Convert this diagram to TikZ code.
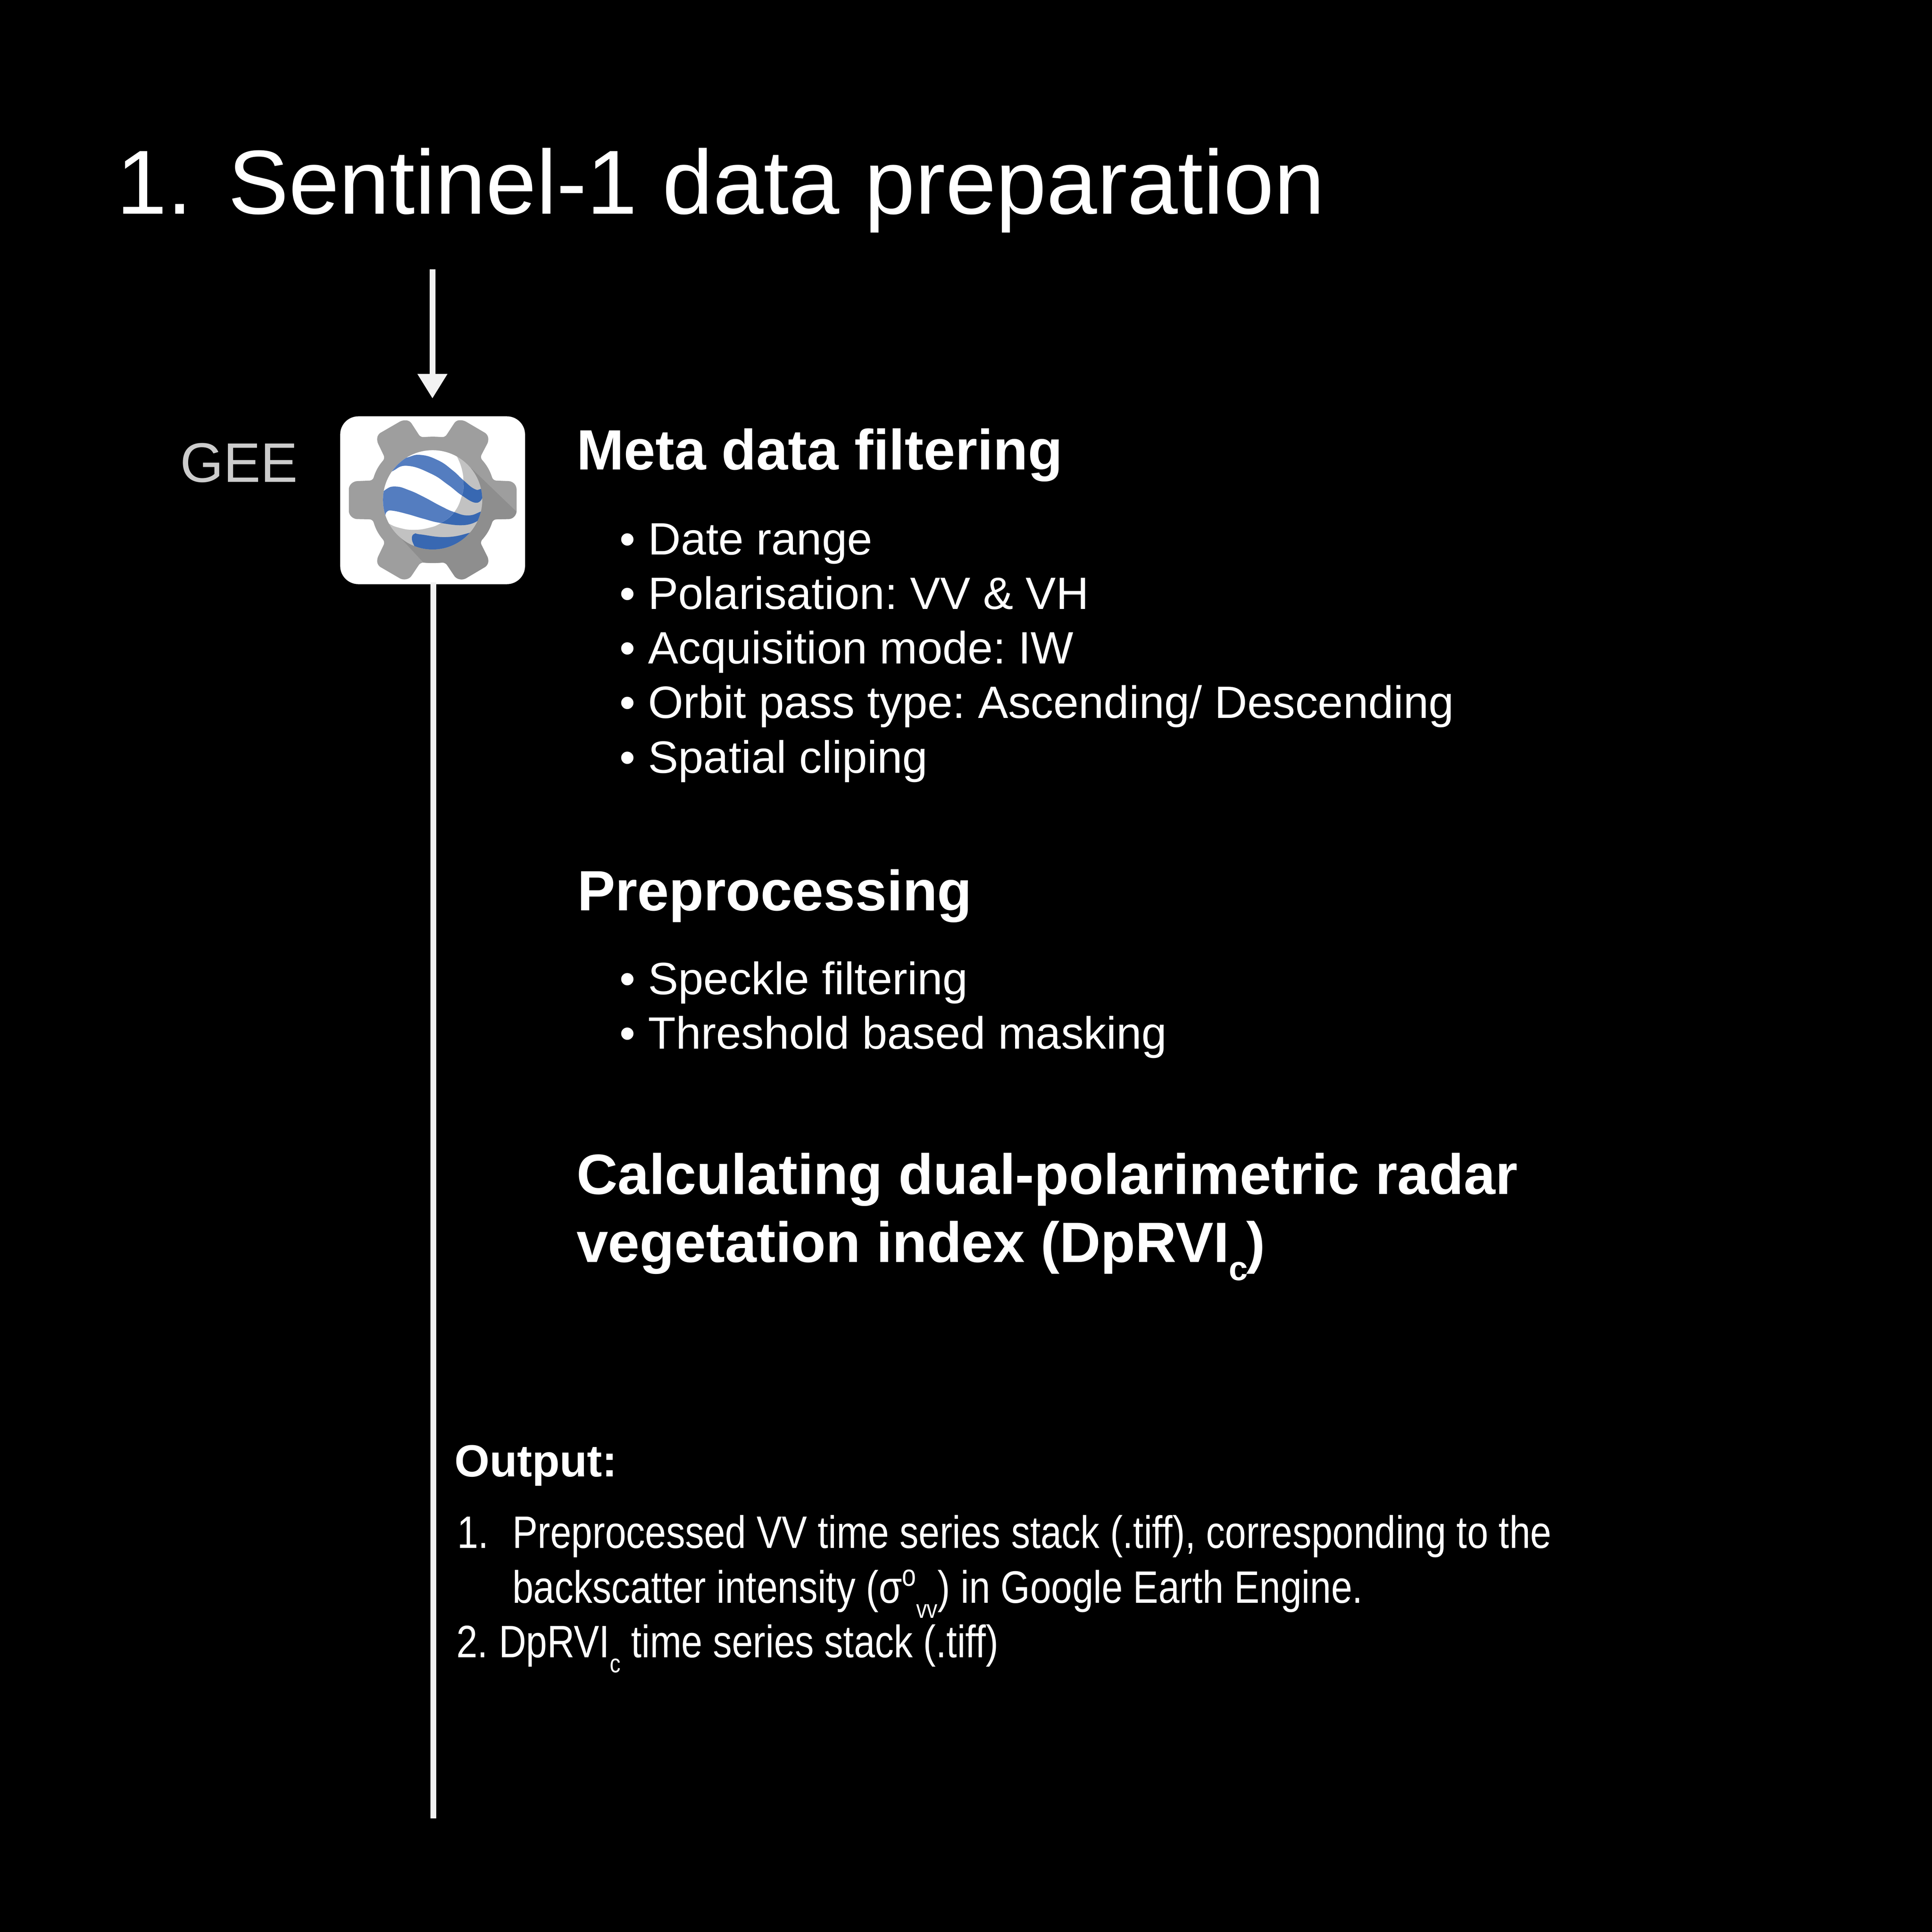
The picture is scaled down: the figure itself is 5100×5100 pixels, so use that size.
\documentclass[tikz,border=0pt]{standalone}
\usepackage{fontspec}
\setmainfont{Liberation Sans}
\newfontfamily\condfont[FakeStretch=0.833]{Liberation Sans}
\usetikzlibrary{arrows.meta}
\newcommand{\fsz}[1]{\fontsize{#1}{#1}\selectfont}
\tikzset{
  txt/.style={anchor=base west,inner sep=0pt,outer sep=0pt,text=white,execute at begin node=\frenchspacing},
  titletxt/.style={txt,font=\fsz{240}},
  headtxt/.style={txt,font=\fsz{150}\bfseries},
  bodytxt/.style={txt,font=\fsz{119.6}},
  outtxt/.style={txt,font=\fsz{120}\condfont},
  outhead/.style={txt,font=\fsz{119}\bfseries},
  conn/.style={draw=linegray,line width=15.5pt},
}
\definecolor{linegray}{HTML}{F2F2F2}
\definecolor{geargray}{HTML}{9E9E9E}
\definecolor{gearshade}{HTML}{8E8E8E}
\definecolor{globegray}{HTML}{C2C2C2}
\definecolor{bluelight}{HTML}{547DC0}
\definecolor{bluedark}{HTML}{3868B2}
\newcommand{\gearfull}{[rounded corners=8pt] (680,298) to[bend left=5] (848,298) -- (925,170) -- (975,168) -- (1142,275) -- (1150,325) -- (1090,450) to[bend left=12] (1180,622) -- (1310,628) -- (1342,665) -- (1342,875) -- (1310,912) -- (1180,915) to[bend left=12] (1090,1085) -- (1150,1215) -- (1142,1262) -- (975,1370) -- (925,1360) -- (850,1238) to[bend left=5] (680,1238) -- (605,1360) -- (555,1370) -- (385,1262) -- (378,1215) -- (435,1085) to[bend left=12] (350,915) -- (220,912) -- (185,875) -- (185,665) -- (220,628) -- (350,622) to[bend left=12] (435,455) -- (378,325) -- (385,275) -- (555,168) -- (605,172) -- cycle}
\newcommand{\bands}{%
 \fill plot[smooth,tension=.8] coordinates {(470,490)(585,450)(680,430)(800,470)(900,545)(975,620)(1050,685)(1098,685)(1170,650)} -- (1170,780) -- plot[smooth,tension=.8] coordinates {(1105,755)(1060,790)(965,735)(870,655)(750,570)(590,512)(490,550)(430,600)} -- cycle;
 \fill plot[smooth,tension=.8] coordinates {(380,760)(440,690)(510,668)(600,695)(700,745)(820,815)(912,860)(1010,885)(1098,855)(1170,820)} -- (1170,900) -- plot[smooth,tension=.8] coordinates {(1075,925)(980,958)(820,942)(700,910)(590,875)(490,850)(450,855)(437,885)} -- (380,900) -- cycle;
 \fill plot[smooth,tension=.8] coordinates {(1070,990)(1020,1015)(860,1048)(680,1028)(640,1022)(620,1055)(637,1115)(680,1200)} -- (1100,1200) -- cycle;
}
\begin{document}
\begin{tikzpicture}[x=1pt,y=-1pt]
\useasboundingbox (0,0) rectangle (5100,5100);
\fill[black] (0,0) rectangle (5100,5100);
% icon tile
\node[fill=white,rounded corners=48pt,minimum width=488pt,minimum height=443pt,inner sep=0pt,outer sep=0pt,anchor=north west] (icon) at (898,1099) {};
% connectors
\coordinate (arrowtop) at (1141.5,711);
\coordinate (arrowtip) at (1141.5,1052);
\coordinate (lineend) at (1144,4800);
\coordinate (linestart) at (1144,1537);
\draw[conn,-{Triangle[length=65pt,width=75pt]}] (arrowtop) -- (arrowtip);
\draw[conn] (linestart) -- (lineend);
% gear logo
\begin{scope}[shift={(850,1050)},x=0.3827pt,y=-0.3509pt]
  \fill[geargray] \gearfull;
  \begin{scope}
    \clip \gearfull;
    \fill[gearshade] (1030,530) -- (1400,918) -- (1400,1400) -- (836,1400) -- (530,1040) -- cycle;
  \end{scope}
  \begin{scope}
    \clip (763,768) circle [radius=131pt];
    \fill[globegray] (300,300) rectangle (1200,1200);
    \begin{scope}[bluedark]
      \bands
    \end{scope}
    \begin{scope}
      \clip plot[smooth,tension=.8] coordinates {(900,380)(930,440)(965,540)(975,640)(965,735)(912,860)(820,942)(730,980)(630,993)(540,980)(460,945)(380,880)} -- (300,300) -- cycle;
      \fill[white] (300,300) rectangle (1200,1200);
      \begin{scope}[bluelight]
        \bands
      \end{scope}
    \end{scope}
  \end{scope}
\end{scope}
% title
\node[titletxt] (num) at (308,565) {1.};
\node[titletxt] (title) at (602,565) {Sentinel-1 data preparation};
\node[txt,font=\fsz{147},text=white!80!black] (gee) at (476,1272) {GEE};
% metadata
\node[headtxt] (meta) at (1522,1240) {Meta data filtering};
\foreach \yy/\tt/\nn in {1464/{Date range}/a,1608/{Polarisation: VV \& VH}/b,1752/{Acquisition mode: IW}/c,1896/{Orbit pass type: Ascending{/} Descending}/d,2040/{Spatial cliping}/e}{
  \node[bodytxt] (bul\nn) at (1636,\yy) {•};
  \node[bodytxt] (item\nn) at (1711,\yy) {\tt};
}
\node[headtxt] (prep) at (1524,2404) {Preprocessing};
\foreach \yy/\tt/\nn in {2625/{Speckle filtering}/f,2769/{Threshold based masking}/g}{
  \node[bodytxt] (bul\nn) at (1636,\yy) {•};
  \node[bodytxt] (item\nn) at (1711,\yy) {\tt};
}
\node[headtxt] (calc1) at (1522,3152) {Calculating dual-polarimetric radar};
\node[headtxt] (calc2) at (1522,3332) {vegetation index (DpRVI\raisebox{-48pt}{\fsz{90}\bfseries c}\hspace{-5pt})};
% output
\node[outhead] (outh) at (1200,3898) {Output:};
\node[outtxt] (o1n) at (1207,4087) {1.};
\node[outtxt] (o1) at (1353,4087) {Preprocessed VV time series stack (.tiff), corresponding to the};
\node[outtxt] (o1b) at (1353,4231) {backscatter intensity (σ\raisebox{44pt}{\fsz{80}\condfont o}\raisebox{-40pt}{\fsz{68}\condfont vv}) in Google Earth Engine.};
\node[outtxt] (o2n) at (1205,4375) {2.};
\node[outtxt] (o2) at (1317,4375) {DpRVI\raisebox{-40pt}{\fsz{68}\condfont c} time series stack (.tiff)};
\end{tikzpicture}
\end{document}
